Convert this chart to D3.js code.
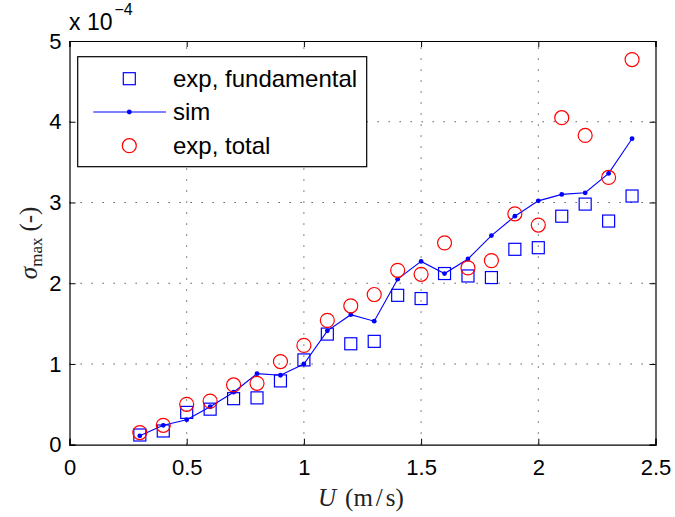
<!doctype html>
<html>
<head>
<meta charset="utf-8">
<script src="https://cdn.jsdelivr.net/npm/d3@7"></script>
<style>
  body { margin: 0; background: #fff; }
  svg { display: block; font-family: "Liberation Sans", Arial, sans-serif; }
</style>
</head>
<body>
<svg id="chart" width="675" height="517"></svg>
<script>
// flow speed U (m/s)
const speeds = [0.3, 0.4, 0.5, 0.6, 0.7, 0.8, 0.9, 1.0, 1.1, 1.2, 1.3, 1.4, 1.5, 1.6, 1.7, 1.8, 1.9, 2.0, 2.1, 2.2, 2.3, 2.4];
// sigma_max values, in units of 1e-4
const expFundamental = [0.12, 0.17, 0.40, 0.44, 0.57, 0.58, 0.79, 1.05, 1.37, 1.25, 1.28, 1.85, 1.81, 2.12, 2.09, 2.07, 2.42, 2.44, 2.83, 2.98, 2.77, 3.08];
const sim = [0.11, 0.24, 0.31, 0.47, 0.65, 0.88, 0.86, 1.00, 1.41, 1.61, 1.53, 2.05, 2.27, 2.12, 2.30, 2.59, 2.83, 3.02, 3.10, 3.12, 3.36, 3.79];
const expTotal = [0.15, 0.24, 0.50, 0.54, 0.74, 0.76, 1.03, 1.23, 1.54, 1.72, 1.86, 2.16, 2.11, 2.50, 2.19, 2.28, 2.86, 2.72, 4.05, 3.83, 3.31, 4.77];
const xTicks = [0, 0.5, 1, 1.5, 2, 2.5];
const yTicks = [0, 1, 2, 3, 4, 5];

const svg = d3.select("#chart");
const mLeft = 69.5, mRight = 655.5, mTop = 41, mBottom = 444.7;

const x = d3.scaleLinear().domain([0, 2.5]).range([mLeft, mRight]);
const y = d3.scaleLinear().domain([0, 5]).range([mBottom, mTop]);

// dotted grid
const grid = svg.append("g")
    .attr("stroke", "#444")
    .attr("stroke-width", 1)
    .attr("stroke-dasharray", "1.3,9.7");
grid.selectAll(".gx").data(xTicks.slice(1, -1)).join("line")
    .attr("x1", d => x(d)).attr("x2", d => x(d))
    .attr("y1", mBottom).attr("y2", mTop);
grid.selectAll(".gy").data(yTicks.slice(1, -1)).join("line")
    .attr("y1", d => y(d)).attr("y2", d => y(d))
    .attr("x1", mLeft).attr("x2", mRight);

// axes with inward ticks on all four sides
const fmt = d => d3.format("")(d);
svg.append("g").attr("transform", `translate(0,${mBottom})`)
    .call(d3.axisBottom(x).tickValues(xTicks).tickSize(-6).tickPadding(15).tickFormat(fmt));
svg.append("g").attr("transform", `translate(0,${mTop})`)
    .call(d3.axisTop(x).tickValues(xTicks).tickSize(-6).tickFormat(""));
svg.append("g").attr("transform", `translate(${mLeft},0)`)
    .call(d3.axisLeft(y).tickValues(yTicks).tickSize(-6).tickPadding(8).tickFormat(fmt));
svg.append("g").attr("transform", `translate(${mRight},0)`)
    .call(d3.axisRight(y).tickValues(yTicks).tickSize(-6).tickFormat(""));

svg.selectAll(".domain").attr("stroke", "#000").attr("stroke-width", 1.2);
svg.selectAll(".tick line").attr("stroke", "#000");
svg.selectAll(".tick text").attr("font-size", 22).attr("fill", "#000")
    .attr("font-family", "Liberation Sans, Arial, sans-serif");

// exponent label
const expo = svg.append("text").attr("x", 69).attr("y", 30)
    .attr("font-size", 23).attr("fill", "#000");
expo.append("tspan").text("x 10");
expo.append("tspan").attr("dx", 2).attr("dy", -15).attr("font-size", 16).text("\u22124");

// axis labels
const serif = "Liberation Serif, Times New Roman, serif";
const xl = svg.append("text").attr("x", 318).attr("y", 506)
    .attr("font-family", serif).attr("font-size", 25).attr("fill", "#222");
xl.append("tspan").attr("font-style", "italic").text("U");
xl.append("tspan").attr("dx", 9).text("(m");
xl.append("tspan").attr("dx", 3).text("/");
xl.append("tspan").attr("dx", 3).text("s)");

const yl = svg.append("text")
    .attr("transform", `translate(37,${y(2.5)}) rotate(-90)`)
    .attr("text-anchor", "middle").attr("font-family", serif)
    .attr("font-size", 25).attr("fill", "#222");
yl.append("tspan").attr("font-style", "italic").text("\u03c3");
yl.append("tspan").attr("dy", 5).attr("font-size", 17).text("max");
yl.append("tspan").attr("dy", -5).attr("dx", 6).text("(-)");

// sim line
const simPts = speeds.map((u, i) => [u, sim[i]]);
svg.append("path").datum(simPts)
    .attr("fill", "none").attr("stroke", "#0000ff").attr("stroke-width", 1.1)
    .attr("d", d3.line().x(d => x(d[0])).y(d => y(d[1])));
svg.append("g").selectAll("circle").data(simPts).join("circle")
    .attr("cx", d => x(d[0])).attr("cy", d => y(d[1])).attr("r", 2.4)
    .attr("fill", "#0000ff");

// experimental fundamental squares
const sq = 12;
svg.append("g").selectAll("rect").data(speeds.map((u, i) => [u, expFundamental[i]])).join("rect")
    .attr("x", d => x(d[0]) - sq / 2).attr("y", d => y(d[1]) - sq / 2)
    .attr("width", sq).attr("height", sq)
    .attr("fill", "none").attr("stroke", "#0000ff").attr("stroke-width", 1.2);

// experimental total circles
svg.append("g").selectAll("circle").data(speeds.map((u, i) => [u, expTotal[i]])).join("circle")
    .attr("cx", d => x(d[0])).attr("cy", d => y(d[1])).attr("r", 7)
    .attr("fill", "none").attr("stroke", "#ff0000").attr("stroke-width", 1.2);

// legend
const lg = svg.append("g");
lg.append("rect").attr("x", 77.7).attr("y", 56.7).attr("width", 289).attr("height", 110)
    .attr("fill", "#fff").attr("stroke", "#000").attr("stroke-width", 1.2);
const legendItems = ["exp, fundamental", "sim", "exp, total"];
const ly = [78.7, 112, 145.7];
const mx = 129.3;
lg.append("rect").attr("x", mx - sq / 2).attr("y", ly[0] - sq / 2).attr("width", sq).attr("height", sq)
    .attr("fill", "none").attr("stroke", "#0000ff").attr("stroke-width", 1.2);
lg.append("line").attr("x1", 93.3).attr("x2", 166).attr("y1", ly[1]).attr("y2", ly[1])
    .attr("stroke", "#0000ff").attr("stroke-width", 1.1);
lg.append("circle").attr("cx", mx).attr("cy", ly[1]).attr("r", 2.4).attr("fill", "#0000ff");
lg.append("circle").attr("cx", mx).attr("cy", ly[2]).attr("r", 7)
    .attr("fill", "none").attr("stroke", "#ff0000").attr("stroke-width", 1.2);
lg.selectAll("text.item").data(legendItems).join("text")
    .attr("x", 173).attr("y", (d, i) => ly[i]).attr("dy", "0.35em")
    .attr("font-size", 24).attr("fill", "#000").text(d => d);
</script>
</body>
</html>
